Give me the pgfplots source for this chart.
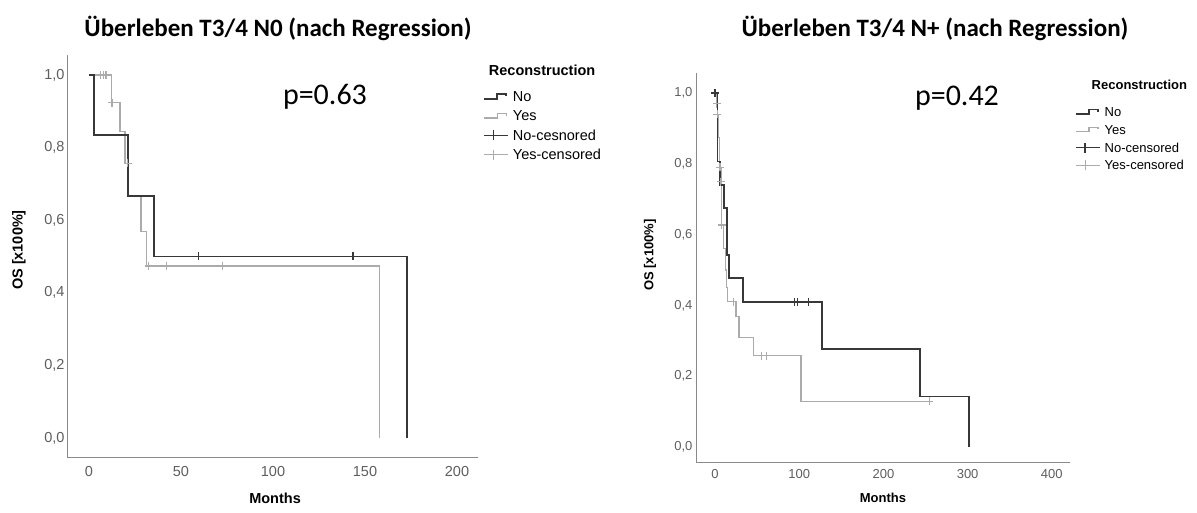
\documentclass[border=0pt]{standalone}
\usepackage{fontspec}
\setmainfont{Liberation Sans}
\newfontfamily\calibri{Carlito}
\usepackage{pgfplots}
\pgfplotsset{compat=1.18}
\definecolor{dk}{HTML}{383838}
\definecolor{lt}{HTML}{ABABAB}
\definecolor{axc}{HTML}{8A8A8A}
\definecolor{tkc}{HTML}{5E5E5E}
\pgfplotsset{
  km/.style={
    scale only axis, axis x line=bottom, axis y line=left,
    axis line style={-, axc, line width=1pt},
    major tick length=0pt,
    /pgf/number format/assume math mode=true,
    ytick={0,0.2,0.4,0.6,0.8,1},
    yticklabel style={/pgf/number format/.cd, fixed, fixed zerofill, precision=1, use comma},
    ylabel={OS [x100\%]}, xlabel={Months},
    clip=false,
    legend cell align=left,
    legend style={draw=none, fill=none, inner sep=0pt, row sep=0pt,
      /tikz/every odd column/.append style={column sep=4pt}},
  },
  stepleg/.style={legend image code/.code={\draw[##1] (0pt,-2pt) -- (13pt,-2pt) -- (13pt,2.5pt) -- (22pt,2.5pt) -- (22pt,0.5pt);}},
  censleg/.style={legend image code/.code={\draw[##1] (0pt,0pt) -- (24pt,0pt); \draw[##1] (9pt,-5pt) -- (9pt,5pt);}},
}
\begin{document}
\begin{tikzpicture}[x=1pt,y=1pt]
\useasboundingbox (0,0) rectangle (1197,513);
% ---------------- left panel ----------------
\begin{axis}[km, at={(68pt,55pt)}, anchor=south west, width=410pt, height=403pt,
  xmin=-11.4, xmax=211.4, ymin=-0.055, ymax=1.055, xtick={0,50,100,150,200},
  tick label style={font=\fontsize{14.5}{14.5}\selectfont, text=tkc},
  xticklabel style={yshift=-4.5pt},
  label style={font=\bfseries\fontsize{14.5}{14.5}\selectfont},
  ylabel style={at={(axis description cs:-0.1195,0.516)}, anchor=center},
  xlabel style={at={(axis description cs:0.505,-0.099)}, anchor=center},
  legend style={at={(axis description cs:1.0125,0.9876)}, anchor=north west, font=\fontsize{14.5}{14.5}\selectfont,
    nodes={inner sep=0pt, text height=14.3pt, text depth=5pt}},
]
\addplot[lt, line width=1.3pt, const plot, forget plot] coordinates {
 (0,1) (12.3,0.924) (16.8,0.844) (19.6,0.757) (21.5,0.667) (28.3,0.568) (31.3,0.474) (157.8,0)};
\addplot[lt, line width=1.2pt, only marks, mark=+, mark size=4pt, forget plot] coordinates {
 (6.3,1) (7.8,1) (9.2,1) (12.5,0.924) (21,0.757) (32.5,0.474) (42.2,0.474) (72.6,0.474)};
\addplot[dk, line width=1.8pt, const plot, forget plot] coordinates {
 (0,1) (2.8,0.835) (21,0.667) (35.5,0.5) (173,0)};
\addplot[dk, line width=1.4pt, only marks, mark=+, mark size=4pt, forget plot] coordinates {
 (59.5,0.5) (143.5,0.5)};
\addlegendimage{empty legend}
\addlegendentry[text height=15pt, text depth=12pt]{\hspace*{-24pt}\textbf{Reconstruction}}
\addlegendimage{stepleg, dk, line width=1.8pt}
\addlegendentry{No}
\addlegendimage{stepleg, lt, line width=1.3pt}
\addlegendentry{Yes}
\addlegendimage{censleg, dk, line width=1.4pt}
\addlegendentry{No-cesnored}
\addlegendimage{censleg, lt, line width=1.2pt}
\addlegendentry{Yes-censored}
\end{axis}
% ---------------- right panel ----------------
\begin{axis}[km, at={(696pt,50pt)}, anchor=south west, width=374pt, height=390pt,
  xmin=-22.6, xmax=421.6, ymin=-0.046, ymax=1.057, xtick={0,100,200,300,400},
  tick label style={font=\fontsize{13}{13}\selectfont, text=tkc},
  xticklabel style={yshift=-3pt},
  label style={font=\bfseries\fontsize{13}{13}\selectfont},
  ylabel style={at={(axis description cs:-0.123,0.533)}, anchor=center},
  xlabel style={at={(axis description cs:0.5,-0.09)}, anchor=center},
  legend style={at={(axis description cs:1.0134,0.9936)}, anchor=north west, font=\fontsize{13}{13}\selectfont,
    nodes={inner sep=0pt, text height=13.3pt, text depth=4.5pt}},
]
\addplot[lt, line width=1.2pt, const plot, forget plot] coordinates {
 (0,1) (1.5,0.97) (2.5,0.94) (4.5,0.875) (5.5,0.79) (7,0.75) (7.5,0.69) (8,0.627) (10,0.56) (12,0.5) (13.5,0.45) (15,0.41) (24.9,0.368) (28.5,0.309) (45.5,0.257) (102,0.129) (254.5,0.129)};
\addplot[lt, line width=1.1pt, only marks, mark=+, mark size=4pt, forget plot] coordinates {
 (2,0.97) (2.6,0.94) (5.9,0.79) (7,0.75) (8.2,0.627) (21.8,0.41) (55.4,0.257) (60.6,0.257) (254.5,0.129)};
\addplot[dk, line width=1.7pt, const plot, forget plot] coordinates {
 (0,1) (2.8,0.807) (5.9,0.741) (11,0.675) (13.9,0.543) (17,0.477) (32.9,0.41) (126.7,0.276) (243.5,0.142) (302,0)};
\addplot[dk, line width=1.3pt, only marks, mark=+, mark size=4pt, forget plot] coordinates {
 (0,1) (94.2,0.41) (97.7,0.41) (110.9,0.41)};
\addlegendimage{empty legend}
\addlegendentry[text height=14pt, text depth=13.5pt]{\hspace*{-13pt}\textbf{Reconstruction}}
\addlegendimage{stepleg, dk, line width=1.7pt}
\addlegendentry{No}
\addlegendimage{stepleg, lt, line width=1.2pt}
\addlegendentry{Yes}
\addlegendimage{censleg, dk, line width=1.3pt}
\addlegendentry{No-censored}
\addlegendimage{censleg, lt, line width=1.1pt}
\addlegendentry{Yes-censored}
\end{axis}
% ---------------- titles and p-values ----------------
\node[font=\calibri\bfseries\fontsize{25}{25}\selectfont] at (278,485) {Überleben T3/4 N0 (nach Regression)};
\node[font=\calibri\bfseries\fontsize{25}{25}\selectfont] at (935,485) {Überleben T3/4 N+ (nach Regression)};
\node[font=\calibri\fontsize{30}{30}\selectfont] at (325,416) {p=0.63};
\node[font=\calibri\fontsize{30}{30}\selectfont] at (957,415) {p=0.42};
\end{tikzpicture}
\end{document}
